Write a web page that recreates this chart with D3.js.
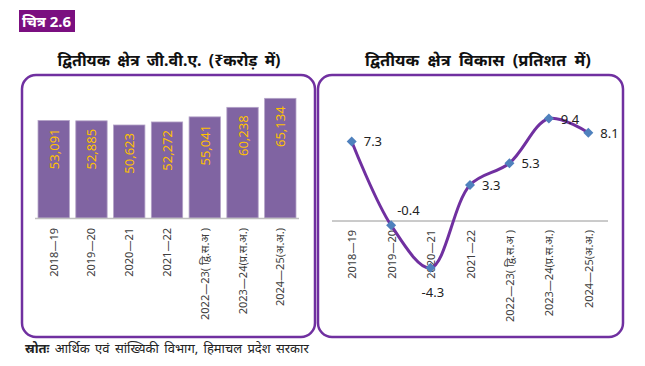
<!DOCTYPE html>
<html>
<head>
<meta charset="utf-8">
<script src="https://cdn.jsdelivr.net/npm/d3@7"></script>
<style>
  body { margin: 0; background: #fff; }
  svg { display: block; font-family: "Noto Sans", "Liberation Sans", sans-serif; }
</style>
</head>
<body>
<svg id="chart" width="645" height="366"></svg>
<script>
// data
var years = ["2018\u201419", "2019\u201420", "2020\u201421", "2021\u201422",
             "2022\u201423( द्वि.स.अ )", "2023\u201424(प्र.स.अ.)", "2024\u201425(अ.अ.)"];
var gva = [53091, 52885, 50623, 52272, 55041, 60238, 65134];
var growth = [7.3, -0.4, -4.3, 3.3, 5.3, 9.4, 8.1];

var svg = d3.select("#chart");
var purple = "#7030a0";

// figure tag
svg.append("rect").attr("x", 19).attr("y", 10).attr("width", 56).attr("height", 22).attr("fill", "#7b0f80");
svg.append("text").attr("x", 22).attr("y", 27).attr("fill", "#fff")
    .style("font-size", "15px").style("font-weight", "bold").text("चित्र 2.6");

// titles
svg.append("text").attr("x", 169).attr("y", 66).attr("text-anchor", "middle")
    .style("font-size", "16px").style("font-weight", "bold").style("word-spacing", "3px").attr("fill", "#111")
    .text("द्वितीयक क्षेत्र जी.वी.ए. (₹करोड़ में)");
svg.append("text").attr("x", 478).attr("y", 66).attr("text-anchor", "middle")
    .style("font-size", "16.5px").style("font-weight", "bold").style("word-spacing", "4px").attr("fill", "#111")
    .text("द्वितीयक क्षेत्र विकास (प्रतिशत में)");

// panels
svg.append("rect").attr("x", 22).attr("y", 75).attr("width", 293).attr("height", 262)
    .attr("rx", 14).attr("fill", "none").attr("stroke", purple).attr("stroke-width", 2.5);
svg.append("rect").attr("x", 318).attr("y", 75).attr("width", 305).attr("height", 262)
    .attr("rx", 14).attr("fill", "none").attr("stroke", purple).attr("stroke-width", 2.5);

// ---- bar chart ----
var xb = d3.scaleBand().domain(years).range([35, 299]).paddingInner(0.17).paddingOuter(0.08);
var yb = d3.scaleLinear().domain([0, 70000]).range([218, 89.4]);

var bars = svg.append("g");
bars.selectAll("rect").data(gva).enter().append("rect")
    .attr("x", function(d, i) { return xb(years[i]); })
    .attr("y", function(d) { return yb(d); })
    .attr("width", xb.bandwidth())
    .attr("height", function(d) { return yb(0) - yb(d); })
    .attr("fill", "#8064a2")
    .attr("stroke", "#b3a2c7").attr("stroke-width", 0.8);

bars.selectAll("text").data(gva).enter().append("text")
    .attr("transform", function(d, i) {
        return "translate(" + (xb(years[i]) + xb.bandwidth() / 2 + 5) + "," + (yb(d) + 8) + ") rotate(-90)";
    })
    .attr("text-anchor", "end")
    .attr("fill", "#ffc000")
    .style("font-size", "13px")
    .text(function(d) { return d3.format(",")(d); });

svg.append("line").attr("x1", 35).attr("x2", 299).attr("y1", 218.5).attr("y2", 218.5)
    .attr("stroke", "#bfbfbf").attr("stroke-width", 1.5);

var xAxisB = svg.append("g").attr("transform", "translate(0,218)")
    .call(d3.axisBottom(xb).tickSize(0).tickPadding(0));
xAxisB.select(".domain").remove();
xAxisB.selectAll("text")
    .attr("transform", "translate(4,10) rotate(-90)")
    .attr("text-anchor", "end").attr("dy", 0).attr("y", 0)
    .attr("fill", "#404040")
    .style("font-size", "11px")
    .style("font-family", "\"Noto Sans\", \"Liberation Sans\", sans-serif");

// ---- line chart ----
var xl = d3.scalePoint().domain(years).range([332, 608]).padding(0.5);
var yl = d3.scaleLinear().domain([-8, 12]).range([308.2, 90.2]);

svg.append("line").attr("x1", 332).attr("x2", 608).attr("y1", yl(0)).attr("y2", yl(0))
    .attr("stroke", "#969696").attr("stroke-width", 1);

var line = d3.line()
    .x(function(d, i) { return xl(years[i]); })
    .y(function(d) { return yl(d); })
    .curve(d3.curveCatmullRom.alpha(0.5));

var xAxisL = svg.append("g").attr("transform", "translate(0," + yl(0) + ")")
    .call(d3.axisBottom(xl).tickSize(0).tickPadding(0));
xAxisL.select(".domain").remove();
xAxisL.selectAll("text")
    .attr("transform", "translate(4,9) rotate(-90)")
    .attr("text-anchor", "end").attr("dy", 0).attr("y", 0)
    .attr("fill", "#404040")
    .style("font-size", "11px")
    .style("font-family", "\"Noto Sans\", \"Liberation Sans\", sans-serif");

svg.append("path").datum(growth).attr("d", line)
    .attr("fill", "none").attr("stroke", purple).attr("stroke-width", 3);

// diamond markers: square turned 45 degrees
svg.append("g").selectAll("path").data(growth).enter().append("path")
    .attr("d", d3.symbol().type(d3.symbolSquare).size(50))
    .attr("transform", function(d, i) { return "translate(" + xl(years[i]) + "," + yl(d) + ") rotate(45)"; })
    .attr("fill", "#4f81bd");

var lblOff = [[12, 5], [6, -10], [-9, 29], [12, 5], [12, 5], [12, 5], [12, 5]];
svg.append("g").selectAll("text").data(growth).enter().append("text")
    .attr("x", function(d, i) { return xl(years[i]) + lblOff[i][0]; })
    .attr("y", function(d, i) { return yl(d) + lblOff[i][1]; })
    .attr("fill", "#222")
    .style("font-size", "13px")
    .text(function(d) { return d.toFixed(1); });

// source
var src = svg.append("text").attr("x", 25).attr("y", 353).style("font-size", "13px")
    .style("word-spacing", "2px").attr("fill", "#222");
src.append("tspan").style("font-weight", "bold").text("स्रोतः");
src.append("tspan").text(" आर्थिक एवं सांख्यिकी विभाग, हिमाचल प्रदेश सरकार");
</script>
</body>
</html>
